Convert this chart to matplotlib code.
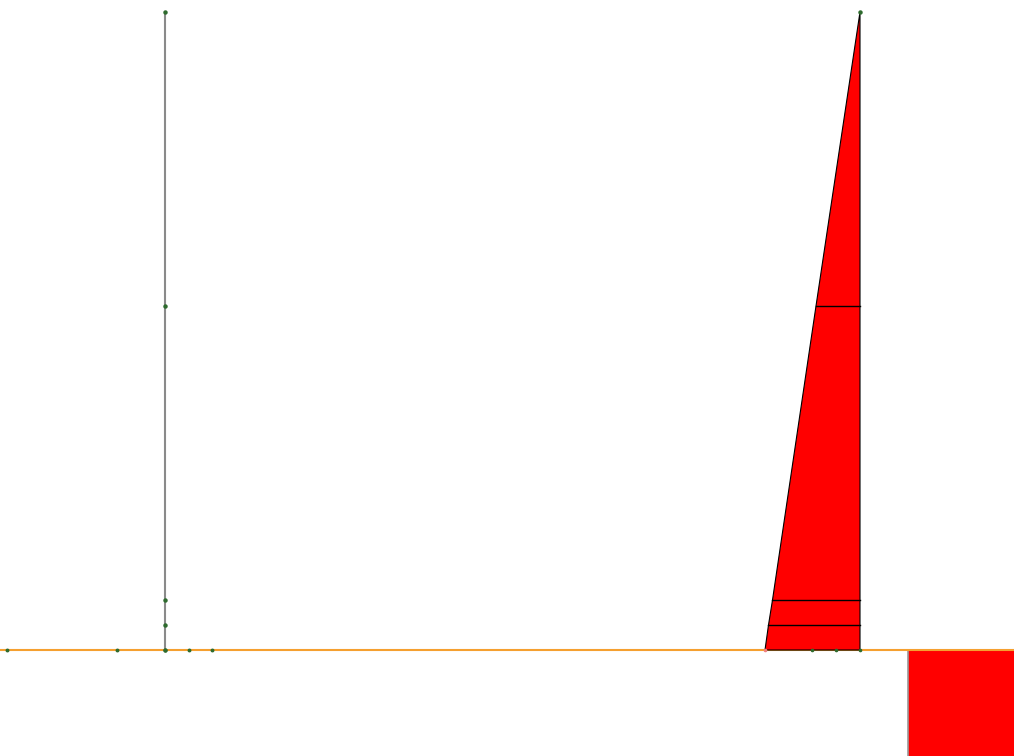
import matplotlib.pyplot as plt
import numpy as np
from matplotlib.patches import Polygon, Rectangle

# ---- Data (metres) ----
column_x = 0.0
node_heights = [0.0, 0.5, 1.0, 6.88, 12.76]
ground_nodes_x = [-3.16, -0.96, 0.0, 0.48, 0.94]
load_base_x = 13.9          # right edge of the load diagram
load_values = [1.9, 1.83, 1.75, 0.88, 0.0]   # load width at each node height
load_nodes_x = [12.94, 13.42, 13.9]
soil_block_x = 14.86
soil_block_depth = 3.0

# ---- Figure ----
fig = plt.figure(figsize=(10.14, 7.56), dpi=100)
ax = fig.add_axes([0, 0, 1, 1])
ax.set_xlim(-3.3, 16.98)
ax.set_ylim(-2.12, 13.0)
ax.axis('off')

# ---- Soil block (lower right) ----
ax.add_patch(Rectangle((soil_block_x, -soil_block_depth), 5.0, soil_block_depth,
                       facecolor='red', edgecolor='#999999', linewidth=1.2, zorder=1))

# ---- Ground line ----
ax.axhline(0, color='#f5a030', linewidth=1.5, zorder=2)

# ---- Load diagram ----
heights = np.array(node_heights)
widths = np.array(load_values)
poly = np.vstack([
    np.column_stack([load_base_x - widths, heights]),
    np.column_stack([np.full(len(heights), load_base_x), heights[::-1]]),
])
ax.add_patch(Polygon(poly, closed=True, facecolor='red', edgecolor='black',
                     linewidth=0.8, zorder=3))
for h, w in zip(node_heights[1:-1], load_values[1:-1]):
    ax.plot([load_base_x - w, load_base_x], [h, h], color='black', linewidth=1.0, zorder=4)

# ---- Column ----
ax.plot([column_x, column_x], [node_heights[0], node_heights[-1]],
        color='#8a8a8a', linewidth=1.5, zorder=4)

# ---- Nodes ----
ax.plot(np.full(len(node_heights), column_x), node_heights, 'o',
        color='#2e6b2e', markersize=2.2, zorder=5)
ax.plot(ground_nodes_x, np.zeros(len(ground_nodes_x)), 'o',
        color='#2e6b2e', markersize=1.8, zorder=5)
ax.plot(load_nodes_x, np.zeros(len(load_nodes_x)), 'o',
        color='#2e6b2e', markersize=1.6, zorder=5)
ax.plot([load_base_x], [node_heights[-1]], 'o', color='#2e6b2e', markersize=2.2, zorder=5)
ax.plot([load_base_x - load_values[0]], [0], 'o', color='#f08080', markersize=1.6, zorder=5)

fig.savefig('out.png', dpi=100, facecolor='white')
